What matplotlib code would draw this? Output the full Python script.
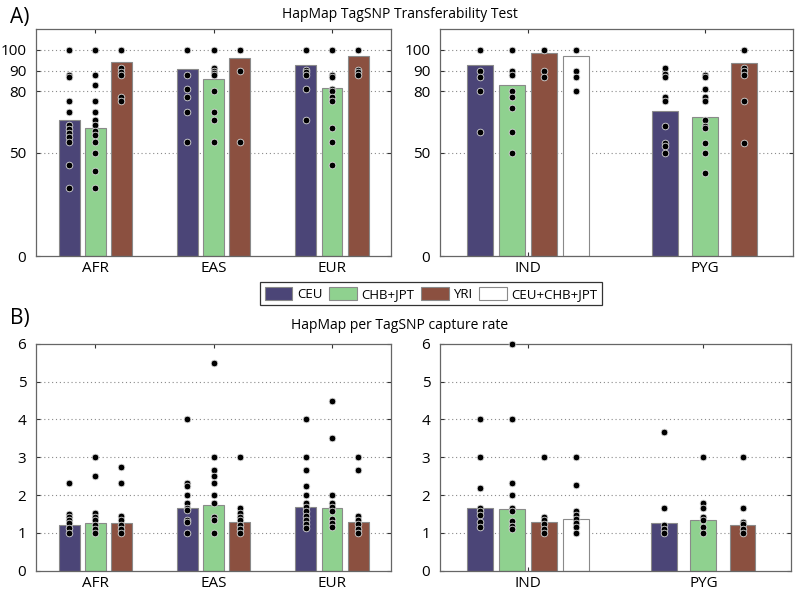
import matplotlib.pyplot as plt
from matplotlib.patches import Patch

plt.rcParams['font.family'] = ['Open Sans', 'DejaVu Sans']
plt.rcParams['font.size'] = 9.5

series = ['CEU', 'CHB+JPT', 'YRI', 'CEU+CHB+JPT']
colors = ['#4b4577', '#8fd18f', '#8b5040', '#ffffff']

left_groups = ['AFR', 'EAS', 'EUR']
right_groups = ['IND', 'PYG']

# A) transferability, bar heights per group (CEU, CHB+JPT, YRI, [CEU+CHB+JPT])
a_bars_left = [[66.0, 62.3, 94.2], [90.5, 86.1, 96.3], [92.7, 81.6, 97.2]]
a_bars_right = [[92.7, 83.2, 98.7, 97.1], [70.2, 67.3, 93.4]]

a_pts_left = [
    [[100, 88, 87, 75, 70, 63.4, 61.5, 59.5, 57.6, 55.2, 44.2, 33.2],
     [100, 88, 83, 75, 70, 66, 63.4, 60.8, 58.7, 55.2, 50, 41.1, 33.2],
     [100, 91, 89.5, 88, 77, 75]],
    [[100, 88, 80.9, 77, 70, 55.2],
     [100, 91.3, 90, 89, 88, 80, 70, 66, 55.2],
     [100, 90, 55.2]],
    [[100, 90.3, 89.2, 88, 80.9, 66],
     [100, 88, 87, 80.9, 80, 77, 75, 62, 55.2, 44],
     [100, 90.1, 89.2, 88]],
]
a_pts_right = [
    [[100, 90, 87, 80, 60.2],
     [100, 90, 88, 80, 77, 72, 60.2, 50.2],
     [100, 90, 87],
     [100, 90, 87, 80]],
    [[91, 88.5, 87, 77, 75, 63, 55, 53.5, 50],
     [88, 87, 81, 77, 75, 66, 63, 62, 55, 50, 40.1],
     [100, 91, 90, 88, 75, 55]],
]

# B) capture rate
b_bars_left = [[1.2, 1.26, 1.25], [1.65, 1.74, 1.28], [1.69, 1.65, 1.29]]
b_bars_right = [[1.67, 1.64, 1.29, 1.38], [1.27, 1.33, 1.22]]

b_pts_left = [
    [[2.33, 1.5, 1.43, 1.33, 1.25, 1.14, 1.0],
     [3.0, 2.5, 1.53, 1.43, 1.33, 1.22, 1.11, 1.0],
     [2.75, 2.33, 1.44, 1.33, 1.22, 1.11, 1.0]],
    [[4.0, 2.33, 2.25, 2.0, 1.8, 1.67, 1.6, 1.33, 1.29, 1.0],
     [5.5, 3.0, 2.67, 2.5, 2.33, 2.0, 1.8, 1.43, 1.34, 1.0],
     [3.0, 1.67, 1.53, 1.43, 1.33, 1.22, 1.11, 1.0]],
    [[4.0, 3.0, 2.67, 2.25, 2.0, 1.8, 1.69, 1.59, 1.45, 1.34, 1.23, 1.13],
     [4.5, 3.5, 2.0, 1.8, 1.69, 1.59, 1.37, 1.27, 1.15],
     [3.0, 2.67, 1.45, 1.34, 1.23, 1.11, 1.0]],
]
b_pts_right = [
    [[4.0, 3.0, 2.2, 1.67, 1.59, 1.48, 1.29, 1.16],
     [6.0, 4.0, 2.33, 2.0, 1.67, 1.59, 1.32, 1.18, 1.11],
     [3.0, 1.43, 1.34, 1.23, 1.11, 1.0],
     [3.0, 2.26, 1.57, 1.48, 1.37, 1.27, 1.15, 1.0]],
    [[3.67, 1.67, 1.2, 1.11, 1.0],
     [3.0, 1.8, 1.67, 1.41, 1.34, 1.16, 1.0],
     [3.0, 1.67, 1.3, 1.23, 1.11, 1.0]],
]

# bar layout: offsets and widths for 3- and 4-bar groups
left_offsets = {3: ([-0.221, 0, 0.221], 0.177)}
right_offsets = {4: ([-0.273, -0.091, 0.091, 0.273], 0.147),
                 3: ([-0.223, 0, 0.223], 0.147)}


def draw_panel(ax, groups, bars, pts, layout, yticks, ylim, grid_levels):
    for gi, name in enumerate(groups):
        n = len(bars[gi])
        offs, w = layout[n]
        for si in range(n):
            x = gi + 1 + offs[si]
            ax.bar(x, bars[gi][si], w, color=colors[si], edgecolor='#8a8a8a',
                   linewidth=0.8, zorder=2)
            ys = pts[gi][si]
            ax.plot([x] * len(ys), ys, 'o', color='black', markersize=4.8,
                    markeredgecolor='#d8d8d8', markeredgewidth=0.6, zorder=3,
                    clip_on=False)
    for lv in grid_levels:
        ax.axhline(lv, color='#8a8a8a', linestyle=(0, (1, 2.5)), linewidth=0.8, zorder=1)
    ax.set_xlim(0.5, len(groups) + 0.5)
    ax.set_ylim(*ylim)
    ax.set_xticks(range(1, len(groups) + 1))
    ax.set_xticklabels(groups, fontsize=11)
    ax.set_yticks(yticks)
    ax.tick_params(direction='in', top=True, right=True, length=3,
                   colors='#333333', labelcolor='black', labelsize=11)
    ax.tick_params(axis='y', pad=7)
    for sp in ax.spines.values():
        sp.set_color('#666666')
        sp.set_linewidth(0.9)


fig = plt.figure(figsize=(8, 5.97), dpi=100)

ax1 = fig.add_axes([0.045, 0.571, 0.444, 0.380])
ax2 = fig.add_axes([0.55, 0.571, 0.441, 0.380])
ax3 = fig.add_axes([0.045, 0.044, 0.444, 0.380])
ax4 = fig.add_axes([0.55, 0.044, 0.439, 0.380])

draw_panel(ax1, left_groups, a_bars_left, a_pts_left, left_offsets,
           [0, 50, 80, 90, 100], (0, 110), [50, 80, 90, 100])
draw_panel(ax2, right_groups, a_bars_right, a_pts_right, right_offsets,
           [0, 50, 80, 90, 100], (0, 110), [50, 80, 90, 100])
draw_panel(ax3, left_groups, b_bars_left, b_pts_left, left_offsets,
           range(0, 7), (0, 6), [1, 2, 3, 4, 5])
draw_panel(ax4, right_groups, b_bars_right, b_pts_right, right_offsets,
           range(0, 7), (0, 6), [1, 2, 3, 4, 5])

fig.text(0.5, 0.975, 'HapMap TagSNP Transferability Test', ha='center', va='center', fontsize=10)
fig.text(0.5, 0.455, 'HapMap per TagSNP capture rate', ha='center', va='center', fontsize=10)
fig.text(0.012, 0.970, 'A)', ha='left', va='center', fontsize=15)
fig.text(0.012, 0.466, 'B)', ha='left', va='center', fontsize=15)

handles = [Patch(facecolor=c, edgecolor='#8a8a8a', linewidth=0.8) for c in colors]
leg = fig.legend(handles, series, loc='center', bbox_to_anchor=(0.539, 0.508), ncol=4,
                 fontsize=9.5, handlelength=2.1, handleheight=1.2, columnspacing=0.5,
                 handletextpad=0.35, borderpad=0.35, fancybox=False, framealpha=1)
leg.get_frame().set_edgecolor('#333333')
leg.get_frame().set_linewidth(0.9)

fig.savefig('out.png', dpi=100)
